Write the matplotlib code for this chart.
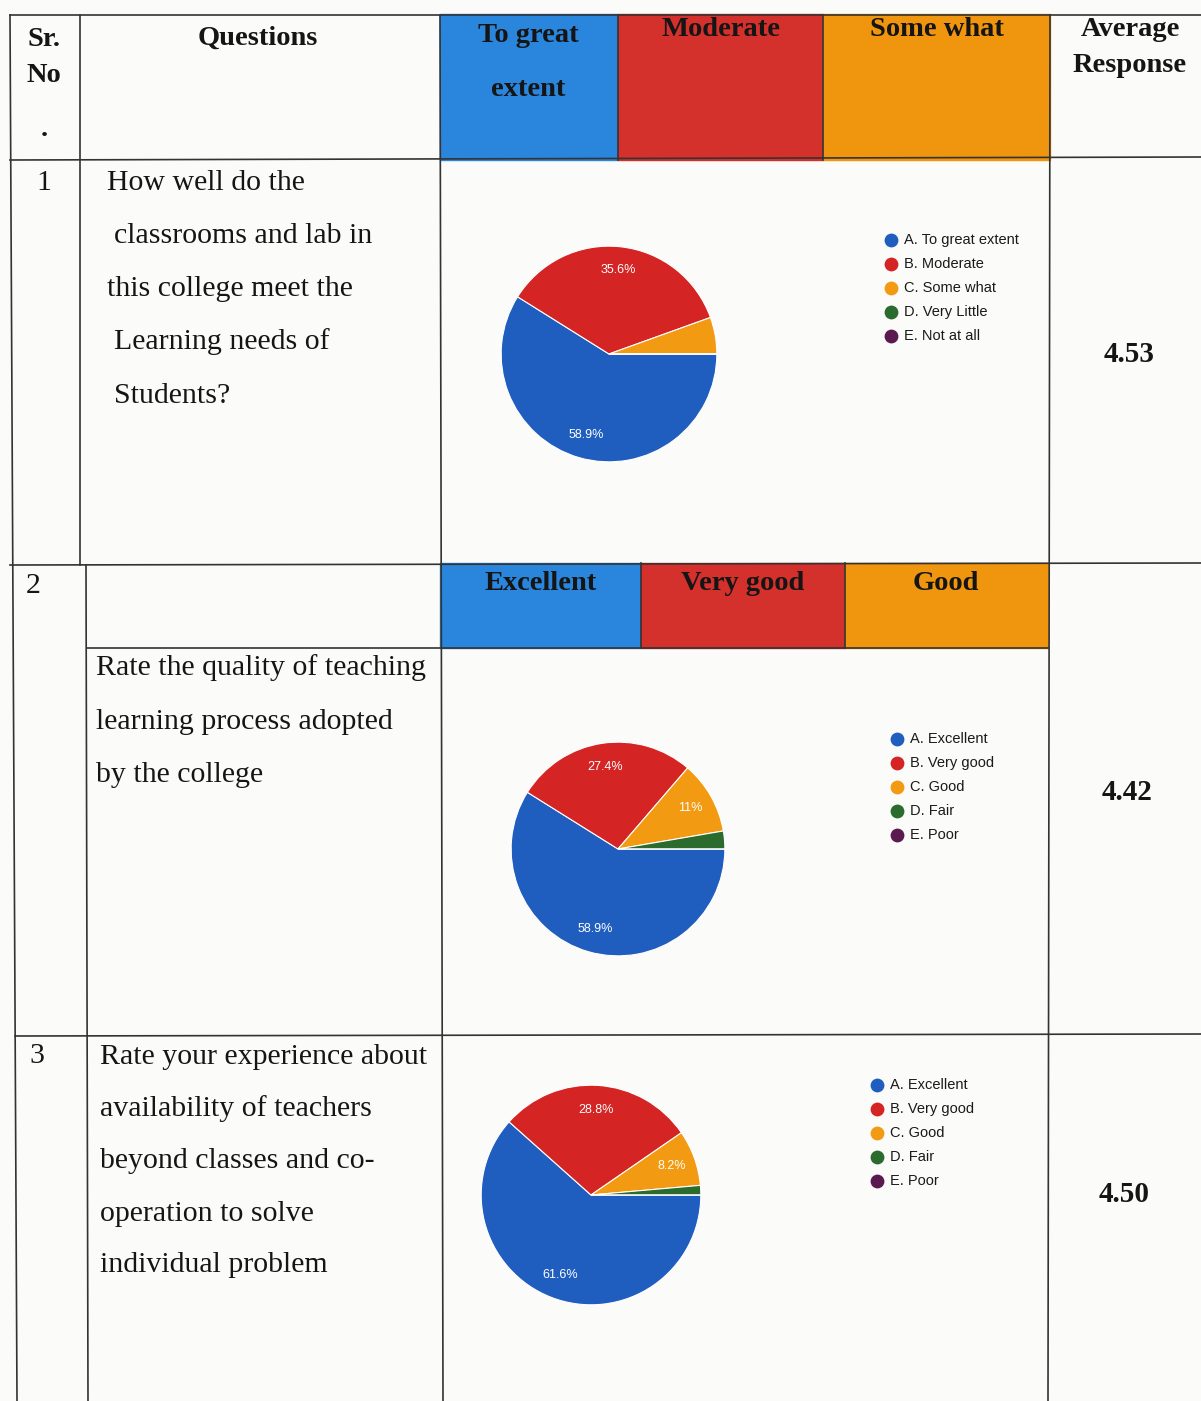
import matplotlib.pyplot as plt
from matplotlib.patches import Rectangle

W, H = 1201, 1401

# data
header_cols = ['To great\nextent', 'Moderate', 'Some what']
row2_cols = ['Excellent', 'Very good', 'Good']
labels_q1 = ['A. To great extent', 'B. Moderate', 'C. Some what', 'D. Very Little', 'E. Not at all']
labels_q23 = ['A. Excellent', 'B. Very good', 'C. Good', 'D. Fair', 'E. Poor']
q1_values = [58.9, 35.6, 5.5, 0.0, 0.0]
q2_values = [58.9, 27.4, 11.0, 2.7, 0.0]
q3_values = [61.6, 28.8, 8.2, 1.4, 0.0]
avg_response = ['4.53', '4.42', '4.50']
sr_no = ['1', '2', '3']
q1_lines = ['How well do the', 'classrooms and lab in', 'this college meet the',
            'Learning needs of', 'Students?']
q2_lines = ['Rate the quality of teaching', 'learning process adopted', 'by the college']
q3_lines = ['Rate your experience about', 'availability of teachers',
            'beyond classes and co-', 'operation to solve', 'individual problem']

pie_colors = ['#1f5ebf', '#d42424', '#f29a12', '#2b6b2e', '#5b1a4f']
head_colors = ['#2a86dc', '#d4302c', '#f0950e']

serif = 'Liberation Serif'
sans = 'Liberation Sans'
bg = '#fbfbf9'

fig = plt.figure(figsize=(W / 100, H / 100), dpi=100, facecolor=bg)
ax = fig.add_axes([0, 0, 1, 1])
ax.set_xlim(0, W)
ax.set_ylim(H, 0)
ax.axis('off')

# header colour cells
for x0, x1, c in zip([440, 618, 823], [618, 823, 1050], head_colors):
    ax.add_patch(Rectangle((x0, 14), x1 - x0, 146, color=c, zorder=1))
for x0, x1, c in zip([440, 641, 845], [641, 845, 1048], head_colors):
    ax.add_patch(Rectangle((x0, 563), x1 - x0, 85, color=c, zorder=1))

# table lines
lc = '#333333'
lines = [
    ((10, 15), (1201, 15)),
    ((10, 160), (1201, 157)),
    ((10, 565), (1201, 563)),
    ((87, 648), (1048, 648)),
    ((15, 1036), (1201, 1034)),
    ((10, 15), (17, 1401)),
    ((80, 15), (80, 565)),
    ((86, 565), (88, 1401)),
    ((440, 15), (443, 1401)),
    ((1050, 15), (1048, 1401)),
    ((618, 15), (618, 160)),
    ((823, 15), (823, 160)),
    ((641, 563), (641, 648)),
    ((845, 563), (845, 648)),
]
for (x0, y0), (x1, y1) in lines:
    ax.plot([x0, x1], [y0, y1], color=lc, lw=1.2, zorder=2)

# header text
hb = dict(family=serif, fontweight='bold', fontsize=20.5, color='#151515', zorder=3)
ax.text(44, 40, 'Sr.', ha='center', va='center', **hb)
ax.text(44, 76, 'No', ha='center', va='center', **hb)
ax.text(44, 130, '.', ha='center', va='center', **hb)
ax.text(258, 38, 'Questions', ha='center', va='center', **hb)
ax.text(528, 36, 'To great', ha='center', va='center', **hb)
ax.text(528, 90, 'extent', ha='center', va='center', **hb)
ax.text(721, 30, header_cols[1], ha='center', va='center', **hb)
ax.text(937, 30, header_cols[2], ha='center', va='center', **hb)
ax.text(1130, 30, 'Average', ha='center', va='center', **hb)
ax.text(1130, 66, 'Response', ha='center', va='center', **hb)
for x, t in zip([541, 743, 946], row2_cols):
    ax.text(x, 584, t, ha='center', va='center', **hb)

# serial numbers and questions
tn = dict(family=serif, fontsize=21.5, color='#151515', va='center', ha='left', zorder=3)
ax.text(44, 183, sr_no[0], **{**tn, 'ha': 'center'})
ax.text(33, 586, sr_no[1], **{**tn, 'ha': 'center'})
ax.text(37, 1056, sr_no[2], **{**tn, 'ha': 'center'})
for t, x, y in zip(q1_lines, [107, 114, 107, 114, 114], [183, 236, 289, 342, 396]):
    ax.text(x, y, t, **tn)
for t, y in zip(q2_lines, [668, 722, 775]):
    ax.text(96, y, t, **tn)
for t, y in zip(q3_lines, [1057, 1109, 1161, 1214, 1265]):
    ax.text(100, y, t, **tn)

# averages
for t, x, y in zip(avg_response, [1129, 1127, 1124], [354, 793, 1195]):
    ax.text(x, y, t, family=serif, fontweight='bold', fontsize=21,
            ha='center', va='center', color='#151515')


def draw_pie(values, cx, cy, r):
    pax = fig.add_axes([(cx - r) / W, 1 - (cy + r) / H, 2 * r / W, 2 * r / H])
    pax.pie(values, colors=pie_colors, startangle=0, counterclock=False,
            autopct=lambda p: ('%.1f%%' % p).replace('.0%', '%') if p > 7 else '',
            pctdistance=0.78,
            wedgeprops=dict(edgecolor='white', linewidth=0.8),
            textprops=dict(color='white', fontsize=9, family=sans))
    pax.set_xlim(-1.02, 1.02)
    pax.set_ylim(-1.02, 1.02)
    pax.axis('off')


def draw_legend(labels, mx, y0, step=24):
    for i, lab in enumerate(labels):
        y = y0 + i * step
        ax.scatter(mx, y, s=80, color=pie_colors[i], zorder=3)
        ax.text(mx + 13, y, lab, family=sans, fontsize=10.5, va='center',
                ha='left', color='#1a1a1a')


draw_pie(q1_values, 609, 354, 110)
draw_pie(q2_values, 618, 849, 109)
draw_pie(q3_values, 591, 1195, 112)
draw_legend(labels_q1, 891, 240)
draw_legend(labels_q23, 897, 739)
draw_legend(labels_q23, 877, 1085)

fig.savefig('out.png', dpi=100, facecolor=bg)
